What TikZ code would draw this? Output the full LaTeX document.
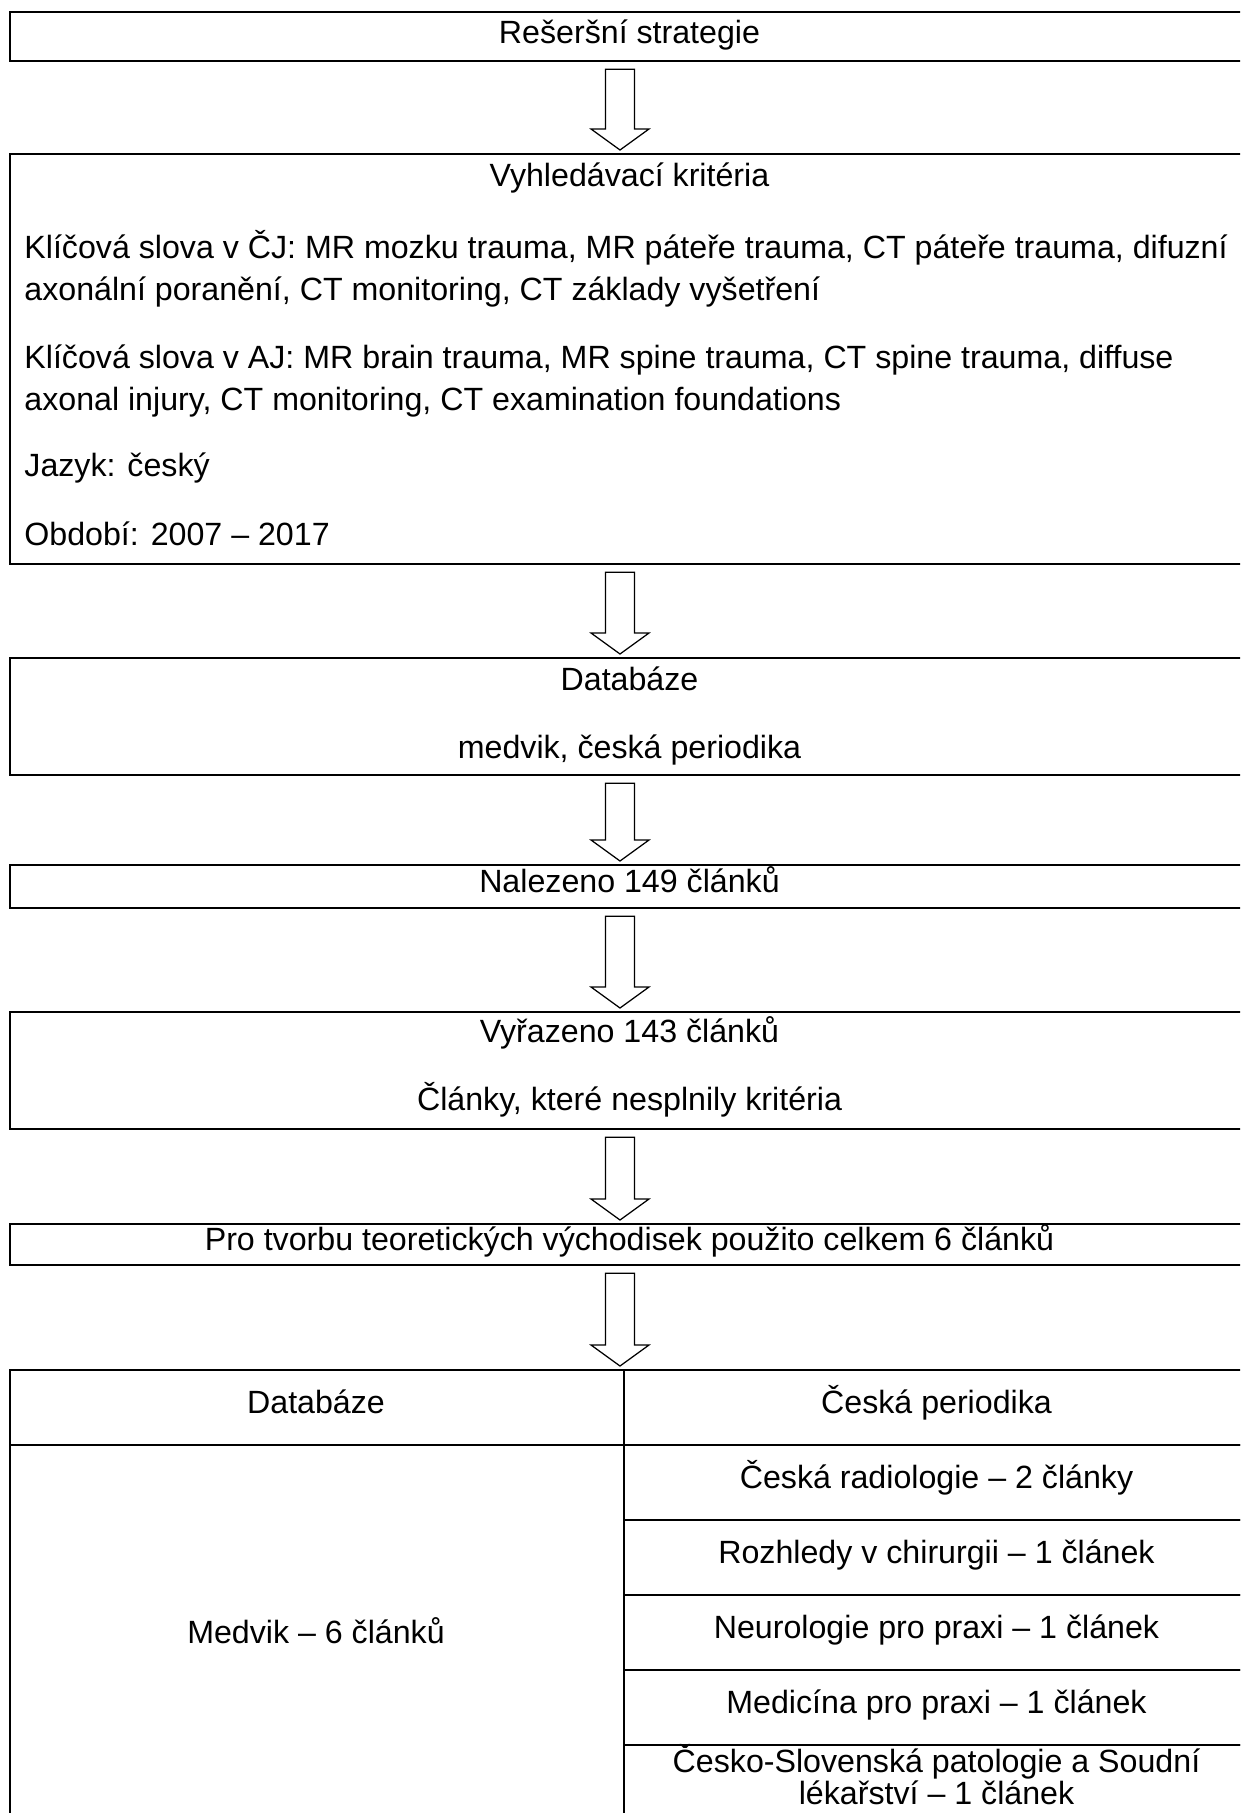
\documentclass[tikz,border=0pt]{standalone}
\usepackage{fontspec}
\setmainfont{Liberation Sans}
\usetikzlibrary{calc}
\tikzset{
  boxnode/.style={draw, line width=1.1pt, inner sep=0pt, anchor=north west,
    font=\fontsize{15.5pt}{18pt}\selectfont},
  txt/.style={inner sep=0pt, anchor=mid, yshift=-1.6pt, font=\fontsize{15.5pt}{18pt}\selectfont},
  ltxt/.style={inner sep=0pt, anchor=mid west, yshift=-1.6pt, font=\fontsize{15.5pt}{18pt}\selectfont},
  blk/.style={draw, line width=0.6pt, fill=white, line join=miter}
}
\newcommand\mybox[5]{\node[boxnode, minimum width=#4*0.4818pt, minimum height=#3*0.4818pt] (#1) at (#5,#2) {};}
\newcommand\blockarrow[2]{%
  \draw[blk] ($(#1.south -| ax)+(-14.5,7)$) -- ($(#2.north -| ax)+(-14.5,-24)$)
    -- ($(#2.north -| ax)+(-29,-24)$) -- ($(#2.north -| ax)+(0,-3)$)
    -- ($(#2.north -| ax)+(29,-24)$) -- ($(#2.north -| ax)+(14.5,-24)$)
    -- ($(#1.south -| ax)+(14.5,7)$) -- cycle;}
\begin{document}
\begin{tikzpicture}[x=0.4818pt,y=-0.4818pt]
\useasboundingbox (0,0) rectangle (1240,1813);
\clip (0,0) rectangle (1240,1813);
\fill[white] (0,0) rectangle (1240,1813);
\coordinate (ax) at (620,0);
% boxes
\mybox{b1}{11}{49}{1241}{9}
\node[txt] (t1) at (629.5,35) {Rešeršní strategie};
\mybox{b2}{153}{410}{1241}{9}
\node[txt] (t2) at (629.5,178) {Vyhledávací kritéria};
\node[ltxt] (t2a) at (24,250) {Klíčová slova v ČJ: MR mozku trauma, MR páteře trauma, CT páteře trauma, difuzní};
\node[ltxt] (t2b) at (24,292) {axonální poranění, CT monitoring, CT základy vyšetření};
\node[ltxt] (t2c) at (24,360) {Klíčová slova v AJ: MR brain trauma, MR spine trauma, CT spine trauma, diffuse};
\node[ltxt] (t2d) at (24,402) {axonal injury, CT monitoring, CT examination foundations};
\node[ltxt] (t2e) at (24,468) {Jazyk: český};
\node[ltxt] (t2f) at (24,537) {Období: 2007 – 2017};
\mybox{b3}{657}{117}{1241}{9}
\node[txt] (t3a) at (629.5,682) {Databáze};
\node[txt] (t3b) at (629.5,750) {medvik, česká periodika};
\mybox{b4}{864}{43}{1241}{9}
\node[txt] (t4) at (629.5,884) {Nalezeno 149 článků};
\mybox{b5}{1011}{117}{1241}{9}
\node[txt] (t5a) at (629.5,1034) {Vyřazeno 143 článků};
\node[txt] (t5b) at (629.5,1102) {Články, které nesplnily kritéria};
\mybox{b6}{1223}{41}{1241}{9}
\node[txt] (t6) at (629.5,1242) {Pro tvorbu teoretických východisek použito celkem 6 článků};
% table
\mybox{hl}{1369}{75}{614}{9}
\mybox{hr}{1369}{75}{627}{623}
\mybox{ml}{1444}{382}{614}{9}
\mybox{r1}{1444}{75}{627}{623}
\mybox{r2}{1519}{75}{627}{623}
\mybox{r3}{1594}{75}{627}{623}
\mybox{r4}{1669}{75}{627}{623}
\mybox{r5}{1744}{82}{627}{623}
\node[txt] (thl) at (316,1405) {Databáze};
\node[txt] (thr) at (936.5,1405) {Česká periodika};
\node[txt] (tml) at (316,1635) {Medvik – 6 článků};
\node[txt] (tr1) at (936.5,1480) {Česká radiologie – 2 články};
\node[txt] (tr2) at (936.5,1555) {Rozhledy v chirurgii – 1 článek};
\node[txt] (tr3) at (936.5,1630) {Neurologie pro praxi – 1 článek};
\node[txt] (tr4) at (936.5,1705) {Medicína pro praxi – 1 článek};
\node[txt] (tr5a) at (936.5,1764) {Česko-Slovenská patologie a Soudní};
\node[txt] (tr5b) at (936.5,1796) {lékařství – 1 článek};
% arrows
\blockarrow{b1}{b2}
\blockarrow{b2}{b3}
\blockarrow{b3}{b4}
\blockarrow{b4}{b5}
\blockarrow{b5}{b6}
\blockarrow{b6}{hl}
\end{tikzpicture}
\end{document}
